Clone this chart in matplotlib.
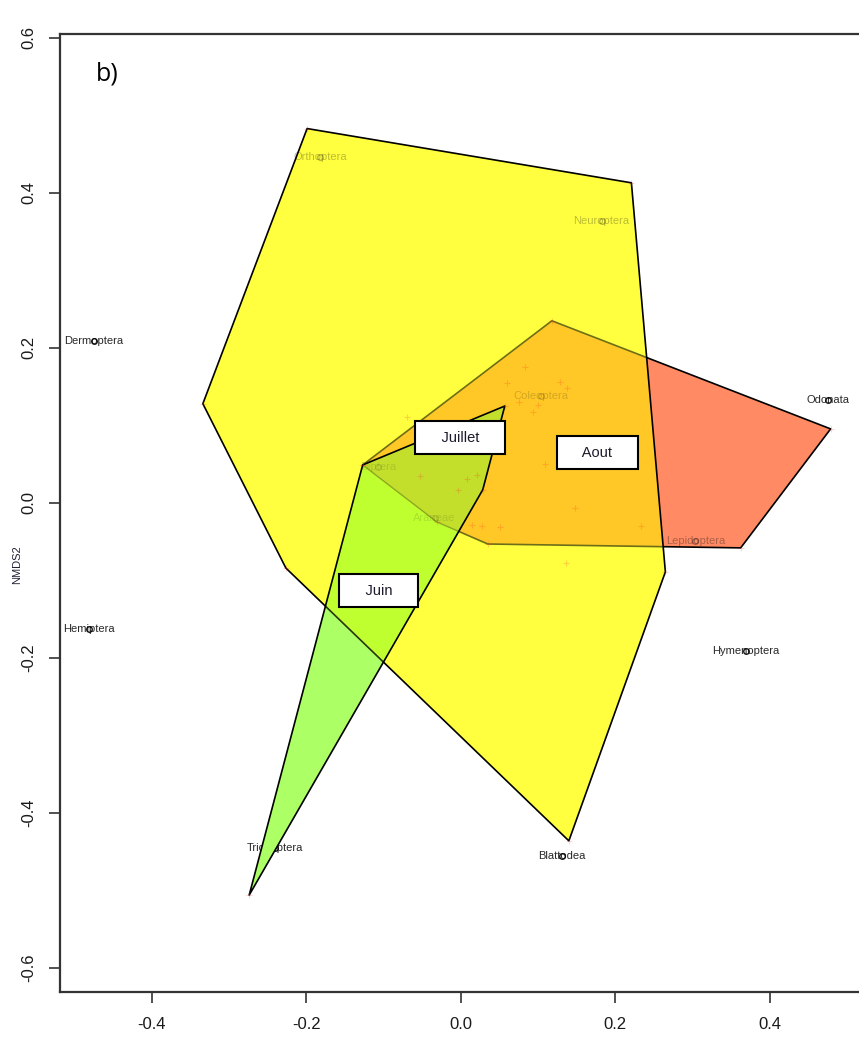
import matplotlib

matplotlib.use("Agg")
import matplotlib.pyplot as plt
import numpy as np
from matplotlib.patches import Polygon

plt.rcParams["font.family"] = ["Liberation Sans", "DejaVu Sans"]
plt.rcParams["axes.unicode_minus"] = False

# hull vertices (NMDS1, NMDS2) per month
aout_x = [0.118, 0.479, 0.3625, 0.035, -0.031, -0.127]
aout_y = [0.235, 0.0955, -0.058, -0.053, -0.0245, 0.049]
juillet_x = [-0.199, 0.221, 0.265, 0.140, -0.2265, -0.334]
juillet_y = [0.483, 0.413, -0.089, -0.436, -0.084, 0.128]
juin_x = [-0.127, 0.057, 0.0285, -0.274]
juin_y = [0.049, 0.125, 0.017, -0.506]

# group label positions
groups = ["Juin", "Juillet", "Aout"]
group_x = [-0.106, -0.001, 0.177]
group_y = [-0.1135, 0.084, 0.0645]

# sites not on a hull
site_x = [0.083, 0.0595, 0.128, 0.137, 0.076, 0.100, 0.093, -0.069, 0.109, 0.148,
          0.014, 0.027, 0.0505, 0.234, 0.136, -0.053, 0.008, -0.004, 0.021]
site_y = [0.1755, 0.155, 0.156, 0.148, 0.130, 0.1265, 0.117, 0.111, 0.050, -0.0065,
          -0.028, -0.030, -0.031, -0.030, -0.077, 0.035, 0.031, 0.017, 0.036]

# species scores
species = ["Orthoptera", "Neuroptera", "Dermoptera", "Coleoptera", "Odonata", "Diptera",
           "Araneae", "Lepidoptera", "Hemiptera", "Hymenoptera", "Trichoptera", "Blattodea"]
species_x = [-0.1825, 0.1825, -0.475, 0.1035, 0.475, -0.107,
             -0.034, 0.304, -0.482, 0.369, -0.241, 0.131]
species_y = [0.446, 0.364, 0.209, 0.138, 0.133, 0.046,
             -0.019, -0.049, -0.163, -0.191, -0.445, -0.455]

# labels that sit under a filled hull look washed out
covered = {"Orthoptera": 0.28, "Neuroptera": 0.28, "Coleoptera": 0.18, "Diptera": 0.12,
           "Araneae": 0.12, "Lepidoptera": 0.35}
# drawn beneath the fills so the hull hides part of the word
beneath = {"Trichoptera"}

CORAL = "#FF8A64"
YELLOW = "#FFFF40"
ORANGE = "#FFC826"
LGREEN = "#ADFF66"
LIME = "#BFFF30"
GOLIVE = "#C3DF2C"

fig = plt.figure(figsize=(8.59, 10.49), dpi=100)
ax = fig.add_axes([0.06985, 0.05434, 0.94296, 0.91325])
ax.set_xlim(-0.519, 0.530)
ax.set_ylim(-0.631, 0.605)


def hull(xs, ys, **kw):
    patch = Polygon(np.column_stack([xs, ys]), closed=True, joinstyle="round", **kw)
    ax.add_patch(patch)
    return patch


aout = hull(aout_x, aout_y, facecolor=CORAL, edgecolor="black", lw=1.2, zorder=2)
juil = hull(juillet_x, juillet_y, facecolor=YELLOW, edgecolor="none", zorder=3)
hull(aout_x, aout_y, facecolor=ORANGE, edgecolor="#6E6E18", lw=1.2, zorder=4).set_clip_path(juil)
hull(juillet_x, juillet_y, facecolor="none", edgecolor="black", lw=1.2, zorder=5)

juin = hull(juin_x, juin_y, facecolor=LGREEN, edgecolor="none", zorder=6)
hull(juillet_x, juillet_y, facecolor=LIME, edgecolor="#263510", lw=1.2, zorder=7).set_clip_path(juin)
hull(aout_x, aout_y, facecolor=GOLIVE, edgecolor="#8FA820", lw=1.0, zorder=8).set_clip_path(juin)
hull(juin_x, juin_y, facecolor="none", edgecolor="black", lw=1.2, zorder=9)

# site points
all_x = site_x + aout_x + juillet_x + juin_x
all_y = site_y + aout_y + juillet_y + juin_y
ax.plot(all_x, all_y, "+", color="#FF2020", alpha=0.2, ms=4, mew=0.8, zorder=10)

# species
for name, x, y in zip(species, species_x, species_y):
    a = covered.get(name, 0.9)
    z = 1 if name in beneath else 11
    ax.text(x, y, name, ha="center", va="center", fontsize=8, color="#111111",
            alpha=a, zorder=z)
    ax.plot(x, y, "o", mfc="none", mec="black", ms=4, mew=1.0, alpha=a, zorder=z)

# month labels
for name, x, y in zip(groups, group_x, group_y):
    ax.text(x, y, "    " + name + "    ", ha="center", va="center", fontsize=10.5,
            color="#1a1a2a", zorder=12,
            bbox=dict(boxstyle="square,pad=0.65", fc="white", ec="black", lw=1.5))

ax.set_xticks([-0.4, -0.2, 0.0, 0.2, 0.4])
ax.set_xticklabels(["-0.4", "-0.2", "0.0", "0.2", "0.4"])
ax.set_yticks([-0.6, -0.4, -0.2, 0.0, 0.2, 0.4, 0.6])
ax.set_yticklabels(["-0.6", "-0.4", "-0.2", "0.0", "0.2", "0.4", "0.6"],
                   rotation=90, va="center")
ax.tick_params(direction="out", length=8, width=1.2, color="#333333", labelsize=12,
               labelcolor="#1a1a1a")
ax.tick_params(axis="x", pad=10)
ax.tick_params(axis="y", pad=9)
for side in ["left", "top", "bottom", "right"]:
    ax.spines[side].set_linewidth(1.6)
    ax.spines[side].set_color("#333333")

fig.text(17 / 859, 1 - 565 / 1049, "NMDS2", rotation=90, ha="center", va="center",
         fontsize=8, color="#222233")
fig.text(96 / 859, 1 - 74 / 1049, "b)", ha="left", va="center", fontsize=18,
         family=["Open Sans", "DejaVu Sans"])

fig.savefig("out.png", dpi=100)
